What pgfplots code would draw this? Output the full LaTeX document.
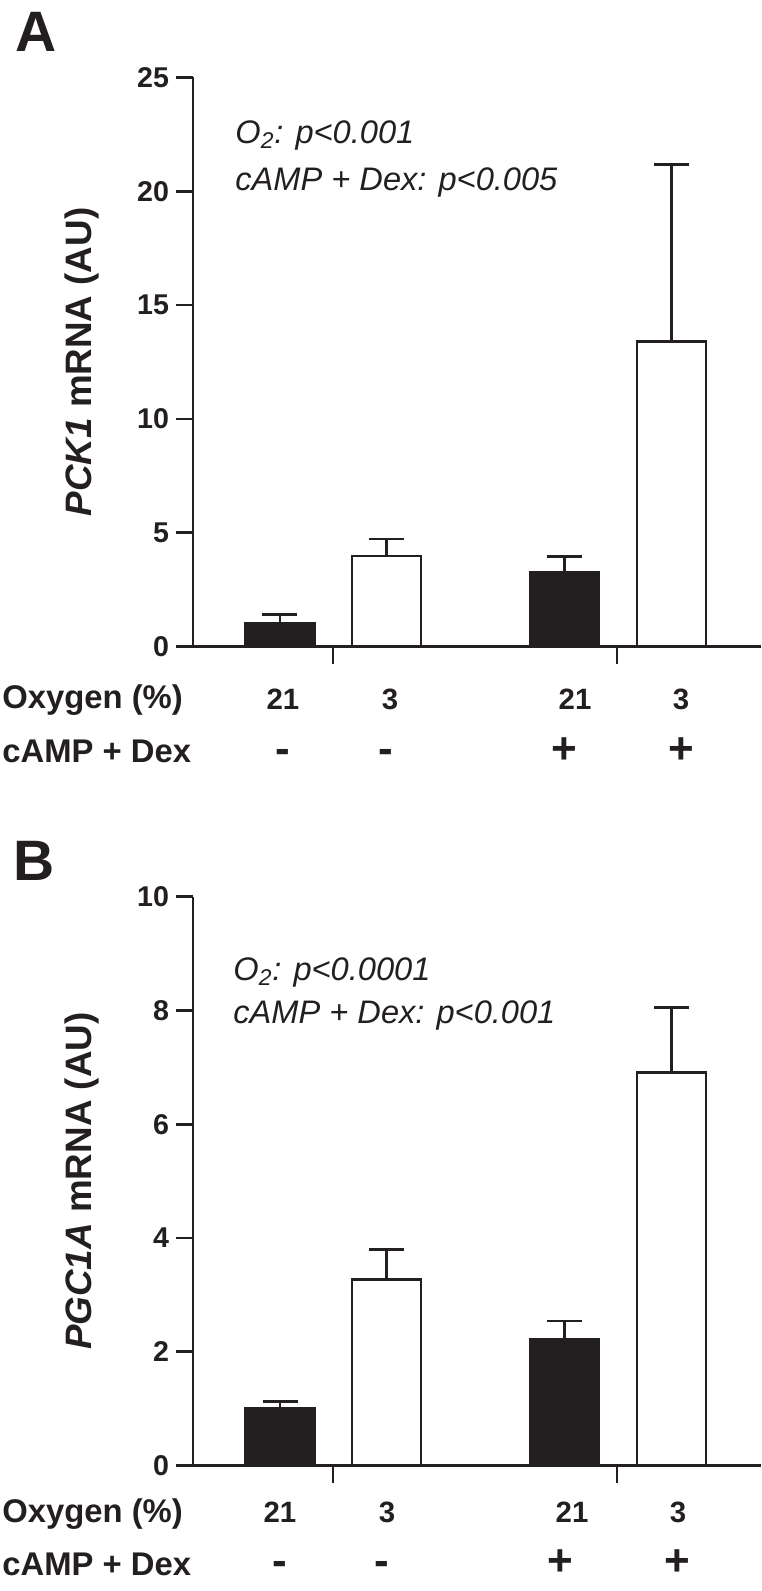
\documentclass[border=0pt]{standalone}
\usepackage{fontspec}
\setmainfont{Liberation Sans}
\usepackage{pgfplots}
\pgfplotsset{compat=1.18}
\definecolor{ink}{HTML}{231F20}

\pgfplotstableread{
x y err
2.800 1.02 0.40
5.645 3.28 0.69
}\AblackData
\pgfplotstableread{
x y err
3.865 3.98 0.75
6.715 13.39 7.79
}\AwhiteData
\pgfplotstableread{
x y err
2.800 1.01 0.12
5.645 2.22 0.32
}\BblackData
\pgfplotstableread{
x y err
3.865 3.27 0.53
6.715 6.91 1.14
}\BwhiteData

\pgfplotsset{
  panel/.style={
    scale only axis, width=284pt,
    xmin=1.93, xmax=7.61, ymin=0,
    axis x line=bottom, axis y line=left,
    axis line style={-, line width=1.4pt, draw=ink},
    enlargelimits=false, clip=false,
    xtick={3.33,6.17}, xticklabels={,,},
    tick align=outside, major tick length=8.5pt,
    every tick/.style={line width=1.4pt, draw=ink},
    /pgf/number format/assume math mode=true,
    yticklabel style={font=\fontsize{14.3}{14.3}\selectfont\bfseries, text=ink},
    ylabel style={font=\fontsize{18.4}{20}\selectfont\bfseries, text=ink,
      at={(axis description cs:-0.1954,0.5)}, anchor=center},
    ybar, bar width=0.69,
  },
  barcommon/.style={bar shift=0pt, draw=ink, line width=1.3pt,
    error bars/.cd, y dir=plus, y explicit,
    error mark=|,
    error bar style={line width=1.3pt, draw=ink},
    error mark options={line width=1.3pt, draw=ink, mark size=8.75pt}},
}

\newcommand{\rowfont}{\fontsize{16.4}{16.4}\selectfont\bfseries}
\newcommand{\valfont}{\fontsize{14.7}{14.7}\selectfont\bfseries}
\newcommand{\signfont}{\fontsize{22}{22}\selectfont\bfseries}
\newcommand{\annfont}{\fontsize{16.3}{16.3}\selectfont\itshape}

\begin{document}
\begin{tikzpicture}[every node/.style={text=ink}]
\useasboundingbox (0,0) rectangle (380.5pt,-795.5pt);

% ---------------- Panel A ----------------
\begin{axis}[panel, at={(96.5pt,-323.35pt)}, anchor=south west,
  height=284.7pt, ymax=25, ytick={0,5,10,15,20,25},
  ylabel={\textit{PCK1} mRNA (AU)}]
\addplot[fill=ink, barcommon] table[x=x, y=y, y error=err] {\AblackData};
\addplot[fill=white, barcommon] table[x=x, y=y, y error=err] {\AwhiteData};
\end{axis}

\node[anchor=base west, inner sep=0pt, font=\fontsize{28.5}{28.5}\selectfont\bfseries] at (7.5pt,-25.5pt) {A};
\node[anchor=base west, inner sep=0pt, font=\annfont] at (117.5pt,-71.5pt) {O\textsubscript{2}: p<0.001};
\node[anchor=base west, inner sep=0pt, font=\annfont] at (117.5pt,-95pt) {cAMP + Dex: p<0.005};

\node[anchor=base west, inner sep=0pt, font=\rowfont] at (1pt,-354pt) {Oxygen (\%)};
\node[anchor=base west, inner sep=0pt, font=\rowfont] at (1pt,-381pt) {cAMP + Dex};
\node[anchor=base, inner sep=0pt, font=\valfont] at (141.5pt,-354.5pt) {21};
\node[anchor=base, inner sep=0pt, font=\valfont] at (195pt,-354.5pt) {3};
\node[anchor=base, inner sep=0pt, font=\valfont] at (287.5pt,-354.5pt) {21};
\node[anchor=base, inner sep=0pt, font=\valfont] at (340.5pt,-354.5pt) {3};
\node[anchor=base, inner sep=0pt, font=\signfont] at (141.5pt,-381.5pt) {-};
\node[anchor=base, inner sep=0pt, font=\signfont] at (193pt,-381.5pt) {-};
\node[anchor=base, inner sep=0pt, font=\signfont] at (282pt,-381.5pt) {+};
\node[anchor=base, inner sep=0pt, font=\signfont] at (340.5pt,-381.5pt) {+};

% ---------------- Panel B ----------------
\begin{axis}[panel, at={(96.5pt,-732.75pt)}, anchor=south west,
  height=284.4pt, ymax=10, ytick={0,2,4,6,8,10},
  ylabel={\textit{PGC1A} mRNA (AU)}]
\addplot[fill=ink, barcommon] table[x=x, y=y, y error=err] {\BblackData};
\addplot[fill=white, barcommon] table[x=x, y=y, y error=err] {\BwhiteData};
\end{axis}

\node[anchor=base west, inner sep=0pt, font=\fontsize{28.5}{28.5}\selectfont\bfseries] at (6.5pt,-440pt) {B};
\node[anchor=base west, inner sep=0pt, font=\annfont] at (116.5pt,-490pt) {O\textsubscript{2}: p<0.0001};
\node[anchor=base west, inner sep=0pt, font=\annfont] at (116.5pt,-511.7pt) {cAMP + Dex: p<0.001};

\node[anchor=base west, inner sep=0pt, font=\rowfont] at (1pt,-761pt) {Oxygen (\%)};
\node[anchor=base west, inner sep=0pt, font=\rowfont] at (1pt,-787.5pt) {cAMP + Dex};
\node[anchor=base, inner sep=0pt, font=\valfont] at (140pt,-761pt) {21};
\node[anchor=base, inner sep=0pt, font=\valfont] at (193.5pt,-761pt) {3};
\node[anchor=base, inner sep=0pt, font=\valfont] at (286pt,-761pt) {21};
\node[anchor=base, inner sep=0pt, font=\valfont] at (339pt,-761pt) {3};
\node[anchor=base, inner sep=0pt, font=\signfont] at (140pt,-787.5pt) {-};
\node[anchor=base, inner sep=0pt, font=\signfont] at (191pt,-787.5pt) {-};
\node[anchor=base, inner sep=0pt, font=\signfont] at (280pt,-787.5pt) {+};
\node[anchor=base, inner sep=0pt, font=\signfont] at (338.5pt,-787.5pt) {+};
\end{tikzpicture}
\end{document}
